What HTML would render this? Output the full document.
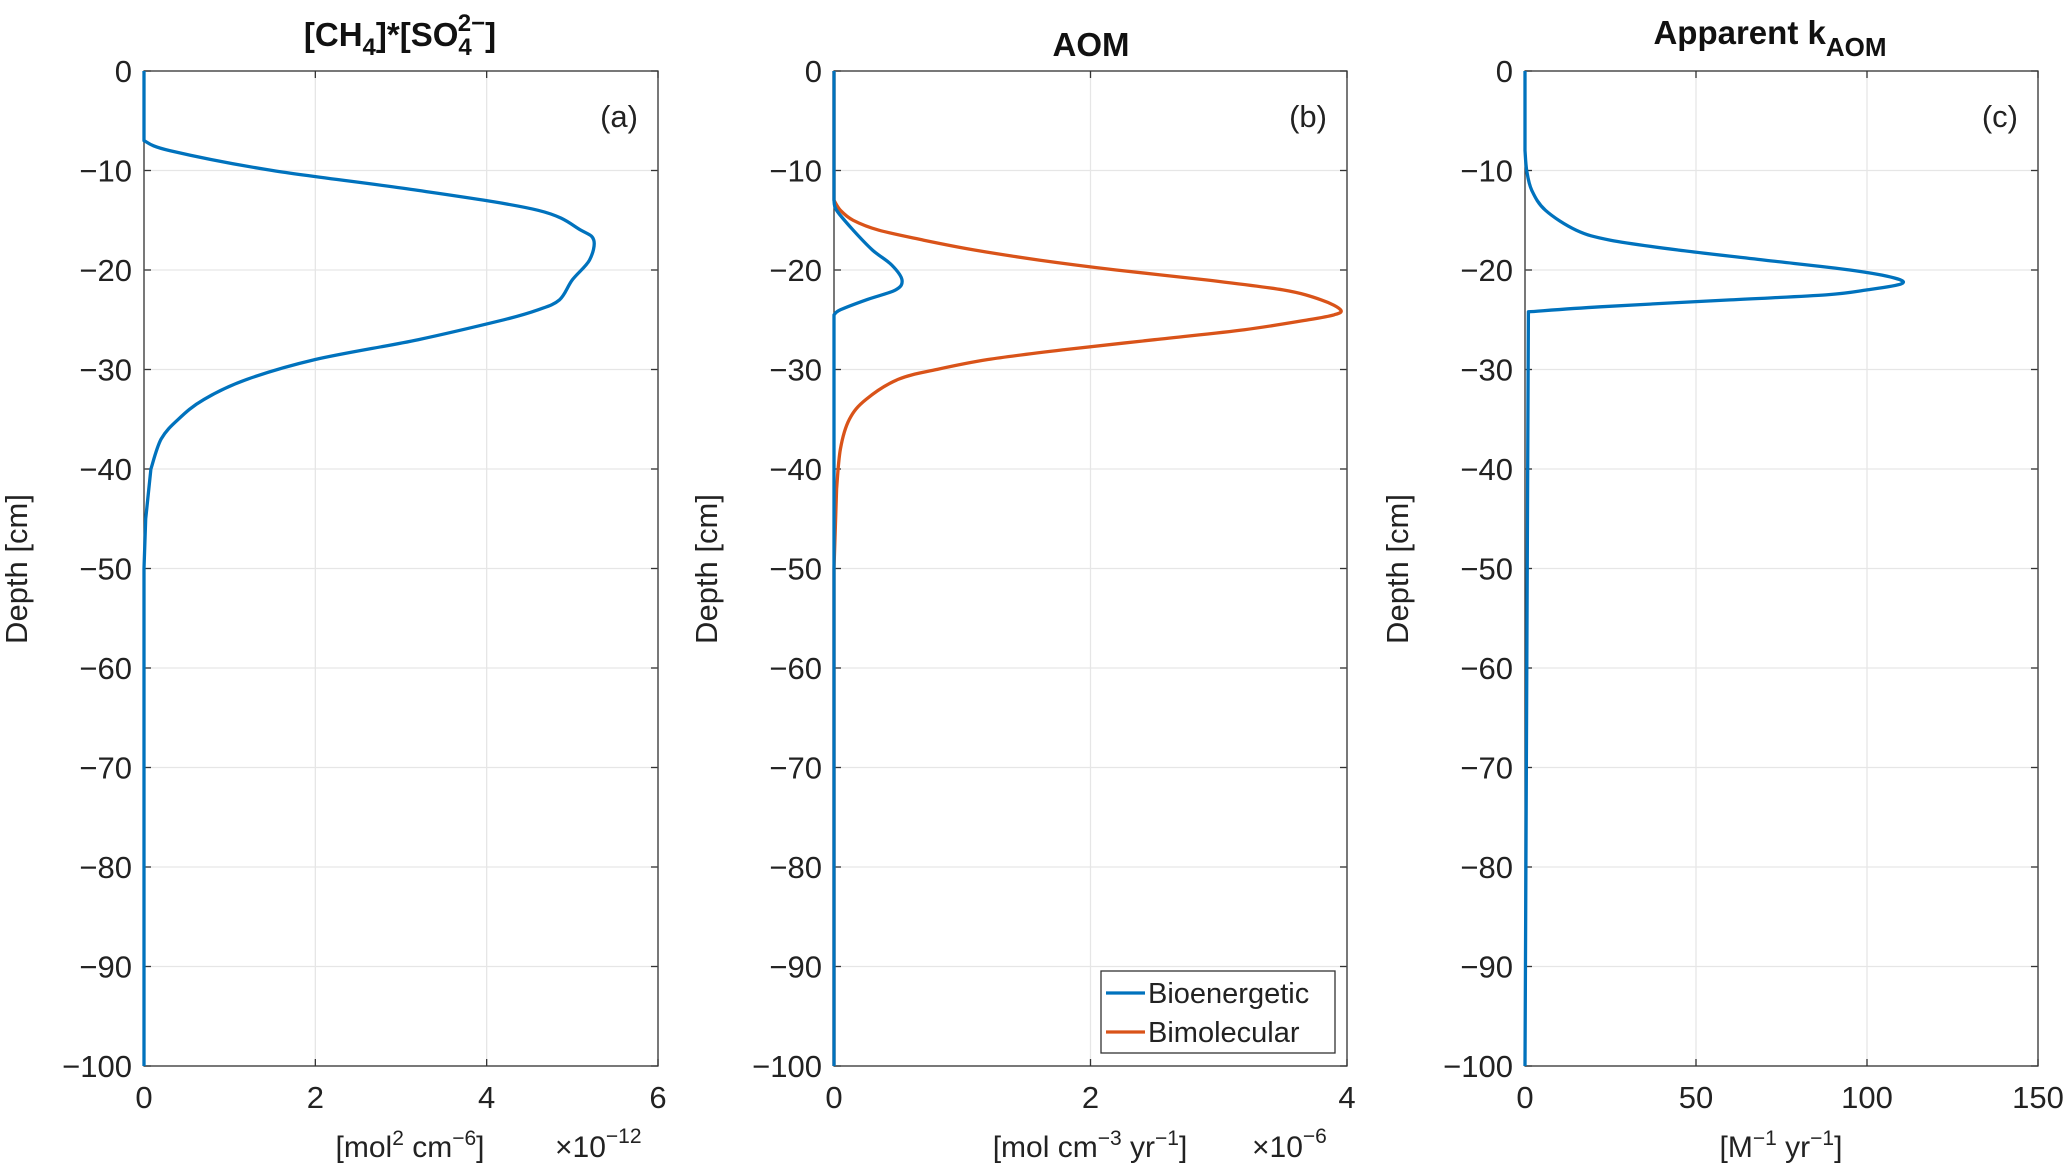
<!DOCTYPE html>
<html><head><meta charset="utf-8"><style>
html,body{margin:0;padding:0;background:#fff;}
svg{display:block;font-family:"Liberation Sans",sans-serif;}
</style></head><body>
<svg id="fig" width="2067" height="1173" viewBox="0 0 2067 1173"></svg>
<script>
// Panel (a): [CH4]*[SO4] (x1e-12)
const depthA = [0,-7,-8,-10,-12,-14,-16,-17,-19,-21,-23,-24,-25,-27,-29,-31,-33,-35,-37,-40,-45,-50,-100];
const valA   = [0,0,0.3,1.5,3.2,4.6,5.1,5.25,5.2,5.0,4.85,4.6,4.2,3.2,2.0,1.2,0.7,0.4,0.2,0.08,0.02,0,0];
// Panel (b): AOM (x1e-6)
const depthBio = [0,-13,-14,-16,-18,-19.5,-21,-22,-23,-24,-24.5,-100];
const valBio   = [0,0,0.02,0.15,0.3,0.45,0.53,0.48,0.25,0.05,0,0];
const depthBim = [0,-13,-14,-15,-16,-17,-18,-19,-20,-21,-22,-23,-24,-24.5,-25,-26,-27,-28,-29,-30,-31,-33,-35,-38,-42,-50,-100];
const valBim   = [0,0,0.05,0.15,0.35,0.7,1.1,1.6,2.2,2.9,3.5,3.8,3.95,3.9,3.7,3.2,2.5,1.8,1.2,0.8,0.5,0.25,0.12,0.05,0.02,0,0];
// Panel (c): apparent k
const depthC = [0,-8,-10,-12,-14,-16,-17,-18,-19,-20,-20.8,-21.4,-22,-22.5,-23,-23.7,-24.2,-100];
const valC   = [0,0,0.5,2,6,15,25,45,70,95,108,110,100,88,60,22,1,0];
const yTicks = [0,-10,-20,-30,-40,-50,-60,-70,-80,-90,-100];
const xTicksA = [0,2,4,6];
const xTicksB = [0,2,4];
const xTicksC = [0,50,100,150];

const NS="http://www.w3.org/2000/svg";
const svg=document.getElementById('fig');
function el(tag,attrs,parent,text){const e=document.createElementNS(NS,tag);for(const k in attrs)e.setAttribute(k,attrs[k]);if(text!==undefined)e.textContent=text;(parent||svg).appendChild(e);return e;}
const Y0=71,Y1=1066;
const panels=[
 {id:'a',x0:144,x1:658,xmax:6,xt:xTicksA,label:'(a)'},
 {id:'b',x0:834,x1:1347,xmax:4,xt:xTicksB,label:'(b)'},
 {id:'c',x0:1525,x1:2038,xmax:150,xt:xTicksC,label:'(c)'}];
function yS(d){return Y0+(0-d)/100*(Y1-Y0);}
panels.forEach(p=>{
  const g=el('g',{});
  
  
  p.xS=v=>p.x0+v/p.xmax*(p.x1-p.x0);
  yTicks.forEach(t=>{
    const y=yS(t);
    el('line',{x1:p.x0,x2:p.x1,y1:y,y2:y,stroke:'#e6e6e6','stroke-width':1.3},g);
    el('line',{x1:p.x0,x2:p.x0+7,y1:y,y2:y,stroke:'#333','stroke-width':1.3},g);
    el('line',{x1:p.x1-7,x2:p.x1,y1:y,y2:y,stroke:'#333','stroke-width':1.3},g);
    const tx=el('text',{x:p.x0-12,y:y+11,'text-anchor':'end','font-size':31,fill:'#222'},g,t===0?'0':'\u2212'+(-t));
    
    
  });
  p.xt.forEach(t=>{
    const x=p.xS(t);
    el('line',{x1:x,x2:x,y1:Y0,y2:Y1,stroke:'#e6e6e6','stroke-width':1.3},g);
    el('line',{x1:x,x2:x,y1:Y1,y2:Y1-7,stroke:'#333','stroke-width':1.3},g);
    el('line',{x1:x,x2:x,y1:Y0,y2:Y0+7,stroke:'#333','stroke-width':1.3},g);
    const tx=el('text',{x:x,y:1108,'text-anchor':'middle','font-size':31,fill:'#222'},g,String(t));
    
    
  });
  el('rect',{x:p.x0,y:Y0,width:p.x1-p.x0,height:Y1-Y0,fill:'none',stroke:'#333','stroke-width':1.3},g);
  const yl=el('text',{x:0,y:0,transform:`translate(${p.x0-117},569) rotate(-90)`,'text-anchor':'middle','font-size':31,fill:'#222'},g,'Depth [cm]');
  
  
  const pl=el('text',{x:p.x1-20,y:127,'text-anchor':'end','font-size':31,fill:'#222'},g,p.label);
  
  
});
function line(p,ds,vs,color,name){
  const P=ds.map((d,i)=>[p.xS(vs[i]),yS(d)]);
  const long=i=>(i<0||i>=ds.length-1)?true:Math.abs(ds[i+1]-ds[i])>4;
  let dstr='M'+P[0][0].toFixed(1)+','+P[0][1].toFixed(1);
  for(let i=0;i<P.length-1;i++){
    const p1=P[i],p2=P[i+1];
    if(long(i)){dstr+=` L${p2[0].toFixed(1)},${p2[1].toFixed(1)}`;continue;}
    const p0=long(i-1)?p1:P[i-1];
    const p3=long(i+1)?p2:P[i+2];
    const t=1/6;
    const c1=[p1[0]+(p2[0]-p0[0])*t,p1[1]+(p2[1]-p0[1])*t];
    const c2=[p2[0]-(p3[0]-p1[0])*t,p2[1]-(p3[1]-p1[1])*t];
    dstr+=` C${c1[0].toFixed(1)},${c1[1].toFixed(1)} ${c2[0].toFixed(1)},${c2[1].toFixed(1)} ${p2[0].toFixed(1)},${p2[1].toFixed(1)}`;
  }
  const l=el('path',{d:dstr,fill:'none',stroke:color,'stroke-width':3.3,'stroke-linejoin':'round'});
  
  
}
line(panels[0],depthA,valA,'#0072BD','series-ch4-so4');
line(panels[1],depthBim,valBim,'#D95319','series-bimolecular');
line(panels[1],depthBio,valBio,'#0072BD','series-bioenergetic');
line(panels[2],depthC,valC,'#0072BD','series-apparent-k');
</script>
<svg style="position:absolute;left:0;top:0" width="2067" height="1173">
 <text x="400" y="46" text-anchor="middle" font-size="33" font-weight="bold" fill="#111">[CH<tspan font-size="24" dy="9">4</tspan><tspan dy="-9">]*[SO</tspan><tspan font-size="24" dy="9">4</tspan><tspan font-size="24" dx="-14" dy="-24">2−</tspan><tspan dy="15">]</tspan></text>
 <text x="1091" y="56" text-anchor="middle" font-size="33" font-weight="bold" fill="#111">AOM</text>
 <text x="1770" y="44" text-anchor="middle" font-size="33" font-weight="bold" fill="#111">Apparent k<tspan font-size="26" dy="12">AOM</tspan></text>
 <text x="410" y="1157" text-anchor="middle" font-size="30" fill="#222">[mol<tspan font-size="21" dy="-12">2</tspan><tspan dy="12"> cm</tspan><tspan font-size="21" dy="-12">−6</tspan><tspan dy="12">]</tspan></text>
 <text x="555" y="1157" font-size="30" fill="#222">×10<tspan font-size="21" dy="-14">−12</tspan></text>
 <text x="1090" y="1157" text-anchor="middle" font-size="30" fill="#222">[mol cm<tspan font-size="21" dy="-12">−3</tspan><tspan dy="12"> yr</tspan><tspan font-size="21" dy="-12">−1</tspan><tspan dy="12">]</tspan></text>
 <text x="1252" y="1157" font-size="30" fill="#222">×10<tspan font-size="21" dy="-14">−6</tspan></text>
 <text x="1781" y="1157" text-anchor="middle" font-size="30" fill="#222">[M<tspan font-size="21" dy="-12">−1</tspan><tspan dy="12"> yr</tspan><tspan font-size="21" dy="-12">−1</tspan><tspan dy="12">]</tspan></text>
 <g>
  <rect x="1101" y="971" width="234" height="82" fill="#fff" stroke="#333" stroke-width="1.3"/>
  <line x1="1106" x2="1145" y1="993" y2="993" stroke="#0072BD" stroke-width="3.3"/>
  <text x="1148" y="1003" font-size="29" fill="#222">Bioenergetic</text>
  <line x1="1106" x2="1145" y1="1032" y2="1032" stroke="#D95319" stroke-width="3.3"/>
  <text x="1148" y="1042" font-size="29" fill="#222">Bimolecular</text>
 </g>
</svg>
</body></html>
